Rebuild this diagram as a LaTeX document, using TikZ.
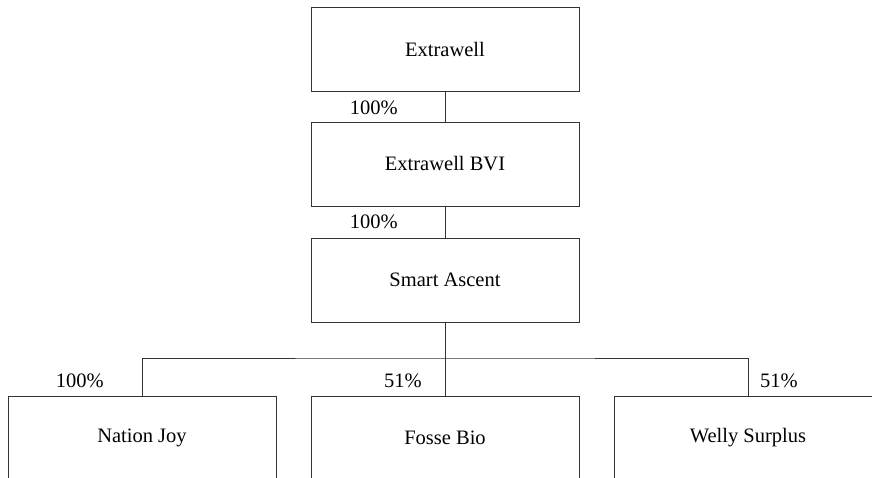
\documentclass[tikz,border=0pt]{standalone}
\usepackage{fontspec}
\setmainfont{Liberation Serif}
\tikzset{
  entity/.style={draw=black!80, minimum width=268pt, minimum height=84pt, inner sep=0pt},
  share/.style={inner sep=0pt},
  link/.style={draw=black!80, line width=0.9pt}
}
\begin{document}
\begin{tikzpicture}[x=1pt,y=-1pt, every node/.style={font=\fontsize{20.5}{24}\selectfont}]
    \useasboundingbox (0,0) rectangle (872,477);

    \node[entity] (extrawell) at (445,49) {Extrawell};
    \node[entity] (bvi) at (445,164) {Extrawell BVI};
    \node[entity] (ascent) at (445,280) {Smart Ascent};

    \node[entity] (nation) at (142,438) {Nation Joy};
    \node[entity] (fosse) at (445,438) {Fosse Bio};
    \node[entity] (welly) at (748,438) {Welly Surplus};

    \coordinate (bus) at (445,358);

    \draw[link] (extrawell) -- (bvi);
    \draw[link] (bvi) -- (ascent);
    \draw[link] (ascent) -- (bus);
    \draw[link] (nation.north) |- (bus) -| (welly.north);
    \draw[link] (bus) -- (fosse);

    \node[share, anchor=east] (p1) at (398,108) {100\%};
    \node[share, anchor=east] (p2) at (398,222) {100\%};
    \node[share, anchor=east] (p3) at (104,381) {100\%};
    \node[share, anchor=east] (p4) at (422,381) {51\%};
    \node[share, anchor=west] (p5) at (760,381) {51\%};
\end{tikzpicture}
\end{document}
